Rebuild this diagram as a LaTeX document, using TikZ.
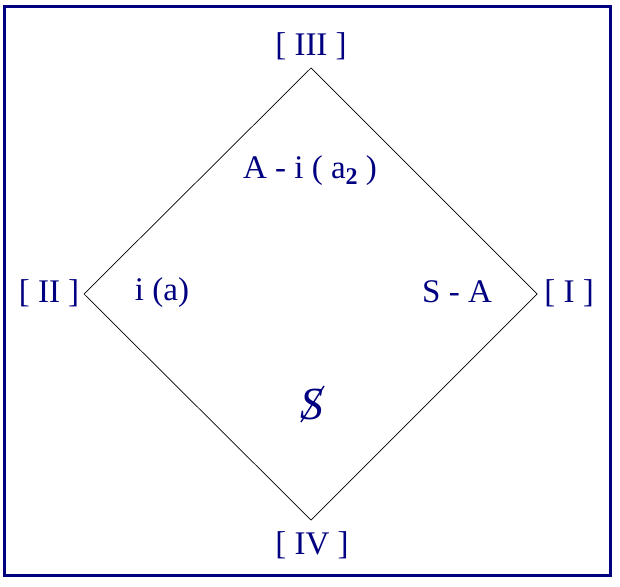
\documentclass[tikz,border=0pt]{standalone}
\usepackage{fontspec}
\setmainfont{Liberation Serif}
\definecolor{navy}{HTML}{000080}
\begin{document}
\begin{tikzpicture}[x=1pt,y=-1pt,
  lbl/.style={text=navy,font=\fontsize{33}{36}\selectfont,inner sep=0pt},
  edge/.style={draw=black,line width=0.7pt}]
\useasboundingbox (0,0) rectangle (620,586);
\draw[navy,line width=3pt] (4.5,6.5) rectangle (610.5,575.5);
\coordinate (t) at (311,68);
\coordinate (r) at (537,294);
\coordinate (b) at (311,520);
\coordinate (l) at (84,294);
\draw[edge] (t) -- (r) -- (b) -- (l) -- cycle;
\node[lbl] (n3) at (311,46) {[ III ]};
\node[lbl] (n2) at (49,293) {[ II ]};
\node[lbl] (n1) at (569,293) {[ I ]};
\node[lbl] (n4) at (312,545) {[ IV ]};
\node[lbl] (ia) at (162,293) {i (a)};
\node[lbl,anchor=base] (sa) at (457,302) {S - A};
\node[lbl,anchor=base] (aia) at (310,178) {A - i ( a\raisebox{-6pt}{\fontsize{24}{26}\selectfont\bfseries 2} )};
\node[lbl,font=\fontsize{46}{50}\selectfont\itshape] (bs) at (312,404) {S};
\draw[navy,line width=1.4pt] ([xshift=-11pt,yshift=-18pt]bs.center) -- ([xshift=12pt,yshift=18pt]bs.center);
\end{tikzpicture}
\end{document}
